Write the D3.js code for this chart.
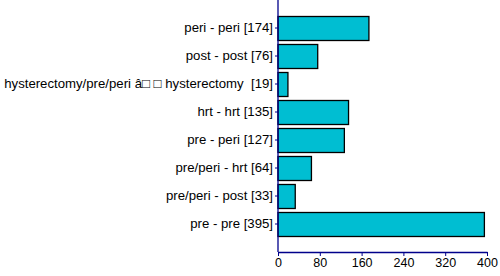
<!DOCTYPE html>
<html>
<head>
<meta charset="utf-8">
<script src="https://cdnjs.cloudflare.com/ajax/libs/d3/7.8.5/d3.min.js"></script>
<style>
    body { margin: 0; background: #fff; }
    svg { display: block; font-family: "Liberation Sans", Arial, sans-serif; }
    text { white-space: pre; }
</style>
</head>
<body>
<div id="chart"></div>
<script>
    // categories top to bottom, with counts
    const categories = [
        "peri - peri [174]",
        "post - post [76]",
        "hysterectomy/pre/peri \u00e2\u25a1 \u25a1 hysterectomy  [19]",
        "hrt - hrt [135]",
        "pre - peri [127]",
        "pre/peri - hrt [64]",
        "pre/peri - post [33]",
        "pre - pre [395]"
    ];
    const values = [174, 76, 19, 135, 127, 64, 33, 395];
    const xTicks = [0, 80, 160, 240, 320, 400];

    const width = 500, height = 276;
    const margin = { top: 0, right: 13, bottom: 24, left: 278 };
    const axisColor = "#00008b";

    const svg = d3.select("#chart").append("svg")
        .attr("width", width)
        .attr("height", height);

    const x = d3.scaleLinear()
        .domain([0, 400])
        .range([margin.left, width - margin.right]);

    const y = d3.scaleBand()
        .domain(categories)
        .range([margin.top, height - margin.bottom])
        .paddingInner(0.14)
        .paddingOuter(0.57);

    // bars
    svg.append("g")
        .selectAll("rect")
        .data(values)
        .join("rect")
        .attr("x", x(0))
        .attr("y", (d, i) => Math.round(y(categories[i])) + 0.5)
        .attr("width", d => x(d) - x(0))
        .attr("height", Math.round(y.bandwidth()))
        .attr("fill", "#00bed2")
        .attr("stroke", "#000")
        .attr("stroke-width", 1.3);

    // y axis
    const yAxis = svg.append("g")
        .attr("transform", `translate(${x(0)},0)`)
        .call(d3.axisLeft(y).tickSize(3).tickPadding(2).tickSizeOuter(0));
    yAxis.select(".domain").remove();
    yAxis.append("line")
        .attr("x1", 0).attr("x2", 0)
        .attr("y1", 0).attr("y2", height - margin.bottom)
        .attr("stroke", axisColor).attr("stroke-width", 1.3);
    yAxis.selectAll(".tick line").attr("stroke", axisColor);
    yAxis.selectAll(".tick text")
        .attr("fill", "#000")
        .style("font-size", "13.2px")
        .style("font-family", "'Liberation Sans', Arial, sans-serif");

    // x axis
    const xAxis = svg.append("g")
        .attr("transform", `translate(0,${height - margin.bottom})`)
        .call(d3.axisBottom(x).tickValues(xTicks).tickSize(4).tickPadding(2).tickSizeOuter(0));
    xAxis.select(".domain").attr("stroke", axisColor).attr("stroke-width", 1.3);
    xAxis.selectAll(".tick line").attr("stroke", axisColor);
    xAxis.selectAll(".tick text")
        .attr("fill", "#000")
        .style("font-size", "12.5px")
        .style("font-family", "'Liberation Sans', Arial, sans-serif");
</script>
</body>
</html>
